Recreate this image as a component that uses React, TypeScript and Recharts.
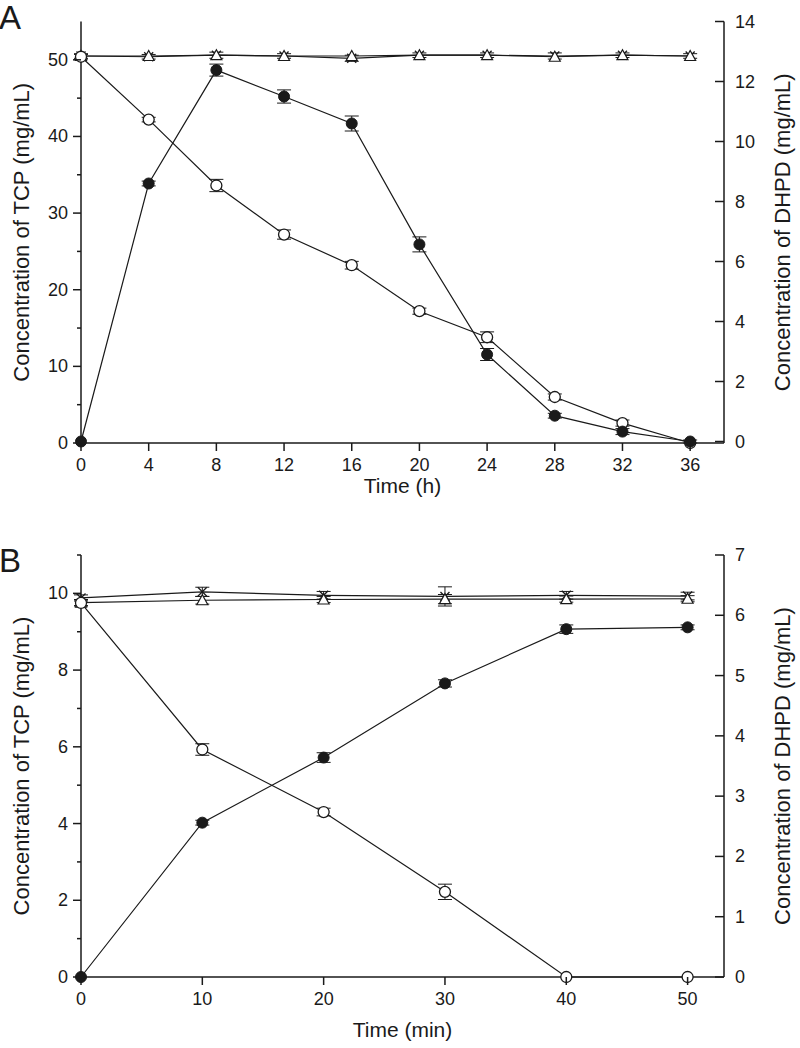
import React from 'react'
import { LineChart, Line, XAxis, YAxis, ErrorBar } from 'recharts'

// panel A: time in hours
const timeA = [0, 4, 8, 12, 16, 20, 24, 28, 32, 36]
const tcpA = [50.4, 42.2, 33.6, 27.2, 23.2, 17.2, 13.8, 6.0, 2.6, 0]
const tcpErrA = [0.3, 0.3, 0.8, 0.6, 0.5, 0.4, 0.7, 0.4, 0.4, 0]
const dhpdA = [0, 8.6, 12.38, 11.5, 10.6, 6.57, 2.9, 0.86, 0.33, 0]
const dhpdErrA = [0, 0.08, 0.2, 0.22, 0.25, 0.25, 0.2, 0.08, 0.1, 0.05]
const starA = [50.5, 50.4, 50.6, 50.5, 50.2, 50.6, 50.6, 50.5, 50.6, 50.5]
const triA = [50.5, 50.5, 50.6, 50.5, 50.5, 50.6, 50.6, 50.4, 50.6, 50.5]
const ctrlErrA = [0.3, 0.3, 0.4, 0.3, 0.4, 0.3, 0.3, 0.4, 0.3, 0.3]

// panel B: time in minutes
const timeB = [0, 10, 20, 30, 40, 50]
const tcpB = [9.75, 5.93, 4.3, 2.22, 0, 0]
const tcpErrB = [0.08, 0.15, 0.1, 0.2, 0, 0]
const dhpdB = [0, 2.56, 3.64, 4.87, 5.77, 5.8]
const dhpdErrB = [0, 0.04, 0.08, 0.06, 0.07, 0.04]
const starB = [9.88, 10.04, 9.95, 9.92, 9.95, 9.93]
const starErrB = [0.08, 0.12, 0.1, 0.25, 0.1, 0.1]
const triB = [9.76, 9.82, 9.84, 9.85, 9.85, 9.86]
const triErrB = [0.08, 0.1, 0.08, 0.12, 0.08, 0.08]

const ticksXA = [0, 4, 8, 12, 16, 20, 24, 28, 32, 36]
const ticksLeftA = [0, 5, 10, 15, 20, 25, 30, 35, 40, 45, 50]
const majorLeftA = [0, 10, 20, 30, 40, 50]
const ticksRightA = [0, 2, 4, 6, 8, 10, 12, 14]
const ticksXB = [0, 10, 20, 30, 40, 50]
const ticksLeftB = [0, 1, 2, 3, 4, 5, 6, 7, 8, 9, 10, 11]
const majorLeftB = [0, 2, 4, 6, 8, 10]
const ticksRightB = [0, 1, 2, 3, 4, 5, 6, 7]

const rowsA = timeA.map((t, i) => ({
  t, tcp: tcpA[i], tcpErr: tcpErrA[i], dhpd: dhpdA[i], dhpdErr: dhpdErrA[i],
  star: starA[i], tri: triA[i], ctrlErr: ctrlErrA[i],
}))
const rowsB = timeB.map((t, i) => ({
  t, tcp: tcpB[i], tcpErr: tcpErrB[i], dhpd: dhpdB[i], dhpdErr: dhpdErrB[i],
  star: starB[i], starErr: starErrB[i], tri: triB[i], triErr: triErrB[i],
}))

const FONT = '"Liberation Sans", Arial, Helvetica, sans-serif'
const INK = '#1a1a1a'

function openCircle(p: any) {
  if (p.cx == null || p.cy == null) return <g key={p.key} />
  return <circle key={p.key} cx={p.cx} cy={p.cy} r={5.5} fill="#fff" stroke={INK} strokeWidth={1.3} />
}
function filledCircle(p: any) {
  if (p.cx == null || p.cy == null) return <g key={p.key} />
  return <circle key={p.key} cx={p.cx} cy={p.cy} r={5.5} fill={INK} stroke={INK} strokeWidth={1} />
}
function triangle(p: any) {
  if (p.cx == null || p.cy == null) return <g key={p.key} />
  const { cx, cy } = p
  return (
    <polygon key={p.key} points={`${cx},${cy - 5.5} ${cx - 5.5},${cy + 4.5} ${cx + 5.5},${cy + 4.5}`}
      fill="#fff" stroke={INK} strokeWidth={1.2} />
  )
}
function star(p: any) {
  if (p.cx == null || p.cy == null) return <g key={p.key} />
  const { cx, cy } = p
  const s = 4.5
  return (
    <g key={p.key} stroke={INK} strokeWidth={1.3}>
      <line x1={cx - s} y1={cy - s} x2={cx + s} y2={cy + s} />
      <line x1={cx - s} y1={cy + s} x2={cx + s} y2={cy - s} />
    </g>
  )
}

// tick drawers: tickSize/tickMargin are 0, so x/y sit on the axis line
function leftTick(majors: number[]) {
  return (p: any) => {
    const v = p.payload.value
    const major = majors.includes(v)
    return (
      <g>
        <line x1={p.x} x2={p.x - (major ? 8 : 4)} y1={p.y} y2={p.y} stroke={INK} strokeWidth={1.5} />
        {major && (
          <text x={p.x - 13} y={p.y + 6} textAnchor="end" fontSize={18} fontFamily={FONT} fill={INK}>{v}</text>
        )}
      </g>
    )
  }
}
function rightTick(p: any) {
  const v = p.payload.value
  return (
    <g>
      <line x1={p.x} x2={p.x - 9} y1={p.y} y2={p.y} stroke={INK} strokeWidth={1.5} />
      <text x={p.x + 11} y={p.y + 6} textAnchor="start" fontSize={18} fontFamily={FONT} fill={INK}>{v}</text>
    </g>
  )
}
function bottomTick(p: any) {
  const v = p.payload.value
  return (
    <g>
      <line x1={p.x} x2={p.x} y1={p.y} y2={p.y + 8} stroke={INK} strokeWidth={1.5} />
      <text x={p.x} y={p.y + 28} textAnchor="middle" fontSize={18} fontFamily={FONT} fill={INK}>{v}</text>
    </g>
  )
}

function vLabel(text: string, x: number, letter?: string, letterY?: number) {
  return (p: any) => {
    const vb = p.viewBox || {}
    const cy = vb.y + vb.height / 2
    return (
      <g>
        <text x={x} y={cy} transform={`rotate(-90 ${x} ${cy})`} textAnchor="middle"
          dominantBaseline="central" fontSize={22} fontFamily={FONT} fill={INK}>{text}</text>
        {letter && (
          <text x={-1} y={letterY} fontSize={33} fontFamily={FONT} fill={INK}>{letter}</text>
        )}
      </g>
    )
  }
}
function xLabel(text: string, dy: number) {
  return (p: any) => {
    const vb = p.viewBox || {}
    return (
      <text x={vb.x + vb.width / 2} y={vb.y + dy} textAnchor="middle" fontSize={21}
        fontFamily={FONT} fill={INK}>{text}</text>
    )
  }
}

const axisLine = { stroke: INK, strokeWidth: 1.5 }
const lineStyle = { stroke: INK, strokeWidth: 1.2 }

function PanelA() {
  return (
    <LineChart width={800} height={520} data={rowsA} margin={{ top: 21.5, right: 0, bottom: 0, left: 0 }}>
      <XAxis dataKey="t" type="number" domain={[0, 38]} ticks={ticksXA} interval={0} height={77}
        axisLine={axisLine} tickLine={false} tickSize={0} tickMargin={0} tick={bottomTick}
        label={{ content: xLabel('Time (h)', 50) }} />
      <YAxis yAxisId="l" orientation="left" domain={[0, 55]} ticks={ticksLeftA} interval={0} width={81}
        axisLine={axisLine} tickLine={false} tickSize={0} tickMargin={0} tick={leftTick(majorLeftA)}
        label={{ content: vLabel('Concentration of TCP (mg/mL)', 21, 'A', 29) }} />
      <YAxis yAxisId="r" orientation="right" domain={[0, 14]} ticks={ticksRightA} interval={0} width={76}
        axisLine={axisLine} tickLine={false} tickSize={0} tickMargin={0} tick={rightTick}
        label={{ content: vLabel('Concentration of DHPD (mg/mL)', 782) }} />
      <Line yAxisId="l" dataKey="star" {...lineStyle} dot={star} isAnimationActive={false}>
        <ErrorBar dataKey="ctrlErr" width={7} stroke={INK} strokeWidth={1} />
      </Line>
      <Line yAxisId="l" dataKey="tri" {...lineStyle} dot={triangle} isAnimationActive={false} />
      <Line yAxisId="l" dataKey="tcp" {...lineStyle} dot={openCircle} isAnimationActive={false}>
        <ErrorBar dataKey="tcpErr" width={7} stroke={INK} strokeWidth={1} />
      </Line>
      <Line yAxisId="r" dataKey="dhpd" {...lineStyle} dot={filledCircle} isAnimationActive={false}>
        <ErrorBar dataKey="dhpdErr" width={7} stroke={INK} strokeWidth={1} />
      </Line>
    </LineChart>
  )
}

function PanelB() {
  return (
    <LineChart width={800} height={520} data={rowsB} margin={{ top: 27, right: 0, bottom: 0, left: 0 }}>
      <XAxis dataKey="t" type="number" domain={[0, 53]} ticks={ticksXB} interval={0} height={71}
        axisLine={axisLine} tickLine={false} tickSize={0} tickMargin={0} tick={bottomTick}
        label={{ content: xLabel('Time (min)', 60) }} />
      <YAxis yAxisId="l" orientation="left" domain={[0, 11]} ticks={ticksLeftB} interval={0} width={81}
        axisLine={axisLine} tickLine={false} tickSize={0} tickMargin={0} tick={leftTick(majorLeftB)}
        label={{ content: vLabel('Concentration of TCP (mg/mL)', 21, 'B', 44) }} />
      <YAxis yAxisId="r" orientation="right" domain={[0, 7]} ticks={ticksRightB} interval={0} width={76}
        axisLine={axisLine} tickLine={false} tickSize={0} tickMargin={0} tick={rightTick}
        label={{ content: vLabel('Concentration of DHPD (mg/mL)', 782) }} />
      <Line yAxisId="l" dataKey="star" {...lineStyle} dot={star} isAnimationActive={false}>
        <ErrorBar dataKey="starErr" width={7} stroke={INK} strokeWidth={1} />
      </Line>
      <Line yAxisId="l" dataKey="tri" {...lineStyle} dot={triangle} isAnimationActive={false}>
        <ErrorBar dataKey="triErr" width={7} stroke={INK} strokeWidth={1} />
      </Line>
      <Line yAxisId="l" dataKey="tcp" {...lineStyle} dot={openCircle} isAnimationActive={false}>
        <ErrorBar dataKey="tcpErr" width={7} stroke={INK} strokeWidth={1} />
      </Line>
      <Line yAxisId="r" dataKey="dhpd" {...lineStyle} dot={filledCircle} isAnimationActive={false}>
        <ErrorBar dataKey="dhpdErr" width={7} stroke={INK} strokeWidth={1} />
      </Line>
    </LineChart>
  )
}

export default function App() {
  return (
    <div style={{ position: 'absolute', left: 0, top: 0, width: 800, height: 1048, background: '#fff', overflow: 'hidden' }}>
      <div style={{ position: 'absolute', left: 0, top: 0 }}>
        <PanelA />
      </div>
      <div style={{ position: 'absolute', left: 0, top: 528 }}>
        <PanelB />
      </div>
    </div>
  )
}
